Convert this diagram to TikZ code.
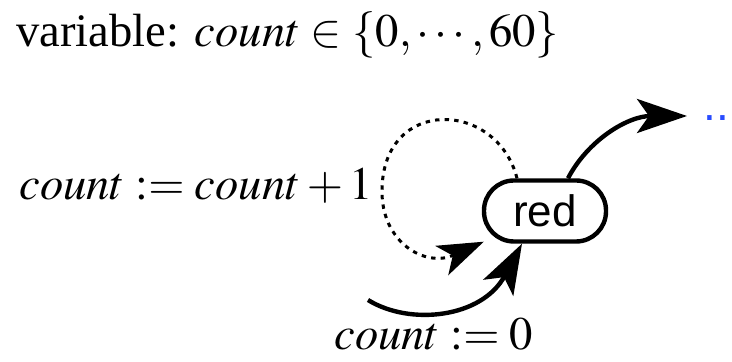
\documentclass[tikz,border=0pt]{standalone}
\usepackage{mathptmx}
\usepackage[no-math]{fontspec}
\setmainfont{Liberation Serif}
\setsansfont{Liberation Sans}
\usetikzlibrary{arrows.meta,calc}
\definecolor{dotblue}{RGB}{40,75,255}
\tikzset{
  txt/.style={font=\fontsize{23.3}{27}\selectfont, inner sep=0pt, anchor=base west},
  state/.style={draw, line width=2.2pt, rectangle, rounded corners=15pt,
    minimum width=61pt, minimum height=30.5pt, inner sep=0pt,
    font=\sffamily\fontsize{22}{26}\selectfont},
  edge/.style={line width=2.2pt, -{Stealth[length=25pt,width=17pt,inset=6pt]}},
  loopedge/.style={line width=1.5pt, dash pattern=on 2.2pt off 2.6pt,
    -{Stealth[length=23pt,width=16pt,inset=6pt]}}
}
\begin{document}
\begin{tikzpicture}[x=0.5pt,y=-0.5pt]
\useasboundingbox (0,0) rectangle (732,362);
\node[txt] (title) at (16,47) {variable: $count\in\{0,\cdots,60\}$};
\node[txt] (looplabel) at (19,200) {$count := count+1$};
\node[txt] (initlabel) at (334,350) {$count := 0$};
\node[state] (red) at (545,211) {red};
\node[txt, font=\sffamily\fontsize{23}{27}\selectfont, text=dotblue] (more) at (703.5,120.5) {...};
\coordinate (outend) at (687,116);
\coordinate (initstart) at (368,300);
\draw[edge] ($(red.north)+(23,0)$) .. controls (588,140) and (628,116) .. (outend);
\draw[loopedge] ($(red.north)+(-28,0)$) .. controls (497,100) and (383,96) .. (382,190)
  .. controls (381,242) and (425,268) .. ($(red.south west)+(2,-2)$);
\draw[edge] (initstart) .. controls (410,326) and (482,318) .. ($(red.south)+(-23,0)$);
\end{tikzpicture}
\end{document}
